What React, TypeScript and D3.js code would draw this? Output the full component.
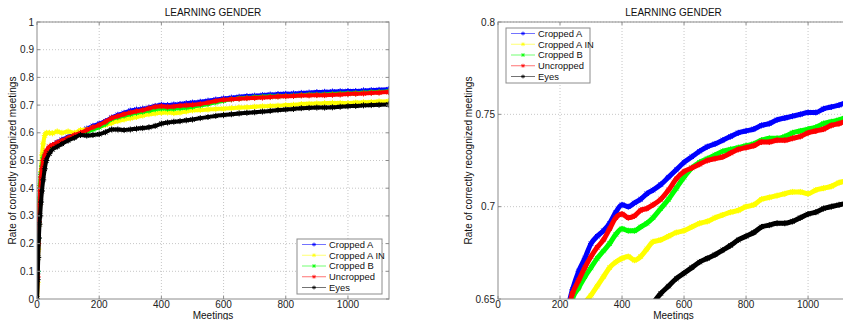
import { useEffect, useRef } from 'react';
import * as d3 from 'd3';

// Number of meetings at which each rate was sampled
const meetings = [0, 2, 4, 6, 8, 10, 13, 16, 20, 25, 30, 40, 50, 65, 80, 100, 120, 140, 160, 180, 200, 220, 240, 260, 280, 300, 320, 340, 360, 380, 400, 420, 440, 460, 480, 500, 525, 550, 575, 600, 625, 650, 675, 700, 725, 750, 775, 800, 825, 850, 875, 900, 925, 950, 975, 1000, 1025, 1050, 1075, 1100, 1130];

const croppedA = [0, 0.1, 0.22, 0.3, 0.36, 0.4, 0.45, 0.48, 0.5, 0.52, 0.53, 0.545, 0.555, 0.565, 0.575, 0.585, 0.595, 0.605, 0.615, 0.625, 0.633, 0.642, 0.655, 0.665, 0.672, 0.68, 0.684, 0.687, 0.691, 0.697, 0.701, 0.7, 0.702, 0.704, 0.707, 0.709, 0.712, 0.716, 0.72, 0.724, 0.727, 0.73, 0.7325, 0.734, 0.736, 0.738, 0.74, 0.741, 0.742, 0.744, 0.745, 0.747, 0.748, 0.749, 0.75, 0.751, 0.751, 0.753, 0.754, 0.755, 0.757];
const croppedAIn = [0, 0.06, 0.18, 0.27, 0.34, 0.4, 0.46, 0.52, 0.56, 0.59, 0.6, 0.6, 0.598, 0.605, 0.6, 0.605, 0.6, 0.61, 0.612, 0.618, 0.622, 0.628, 0.635, 0.642, 0.648, 0.652, 0.657, 0.662, 0.667, 0.67, 0.672, 0.673, 0.671, 0.673, 0.677, 0.681, 0.682, 0.684, 0.686, 0.687, 0.689, 0.691, 0.692, 0.694, 0.6955, 0.697, 0.698, 0.7, 0.701, 0.704, 0.705, 0.706, 0.707, 0.708, 0.708, 0.707, 0.709, 0.71, 0.711, 0.713, 0.714];
const croppedB = [0, 0.1, 0.22, 0.3, 0.36, 0.41, 0.45, 0.48, 0.51, 0.52, 0.53, 0.54, 0.55, 0.56, 0.568, 0.578, 0.587, 0.595, 0.603, 0.612, 0.62, 0.632, 0.65, 0.656, 0.662, 0.667, 0.672, 0.676, 0.68, 0.685, 0.688, 0.687, 0.687, 0.689, 0.691, 0.694, 0.699, 0.704, 0.71, 0.716, 0.721, 0.724, 0.726, 0.728, 0.73, 0.731, 0.732, 0.733, 0.734, 0.736, 0.737, 0.737, 0.738, 0.74, 0.741, 0.742, 0.743, 0.745, 0.746, 0.747, 0.749];
const uncropped = [0, 0.08, 0.2, 0.28, 0.34, 0.39, 0.44, 0.47, 0.5, 0.52, 0.535, 0.55, 0.556, 0.565, 0.572, 0.582, 0.592, 0.6, 0.61, 0.62, 0.628, 0.64, 0.653, 0.66, 0.667, 0.673, 0.678, 0.682, 0.688, 0.694, 0.696, 0.694, 0.695, 0.698, 0.699, 0.701, 0.704, 0.709, 0.715, 0.719, 0.721, 0.723, 0.725, 0.726, 0.727, 0.729, 0.731, 0.732, 0.733, 0.735, 0.735, 0.736, 0.736, 0.737, 0.738, 0.74, 0.741, 0.742, 0.744, 0.745, 0.747];
const eyes = [0, 0.07, 0.15, 0.22, 0.27, 0.3, 0.35, 0.39, 0.43, 0.47, 0.5, 0.525, 0.54, 0.55, 0.56, 0.572, 0.582, 0.592, 0.59, 0.592, 0.595, 0.602, 0.612, 0.612, 0.61, 0.612, 0.615, 0.617, 0.62, 0.625, 0.633, 0.637, 0.64, 0.642, 0.645, 0.648, 0.653, 0.657, 0.661, 0.664, 0.667, 0.67, 0.672, 0.674, 0.6765, 0.679, 0.682, 0.684, 0.686, 0.689, 0.69, 0.691, 0.691, 0.692, 0.694, 0.696, 0.697, 0.699, 0.7, 0.701, 0.702];

const seriesNames = ['Cropped A', 'Cropped A IN', 'Cropped B', 'Uncropped', 'Eyes'];
const seriesColors = ['#0000ff', '#ffff00', '#00ff00', '#ff0000', '#000000'];
const seriesValues = [croppedA, croppedAIn, croppedB, uncropped, eyes];

const leftYTicks = [0, 0.1, 0.2, 0.3, 0.4, 0.5, 0.6, 0.7, 0.8, 0.9, 1];
const rightYTicks = [0.65, 0.7, 0.75, 0.8];
const xTicks = [0, 200, 400, 600, 800, 1000];

const FONT = '"Liberation Sans", Arial, sans-serif';

interface PanelOpts {
  id: string;
  left: number;
  right: number;
  top: number;
  bottom: number;
  yDomain: [number, number];
  yTicks: number[];
  lineWidth: number;
  yLabelOffset: number;
  legend: { x: number; y: number; w: number; h: number };
}

function drawPanel(svg: d3.Selection<SVGSVGElement, unknown, null, undefined>, o: PanelOpts) {
  const x = d3.scaleLinear().domain([0, 1132]).range([o.left, o.right]);
  const y = d3.scaleLinear().domain(o.yDomain).range([o.bottom, o.top]);
  const g = svg.append('g');

  // grid
  g.selectAll('.gx').data(xTicks.slice(1)).enter().append('line')
    .attr('x1', d => x(d)).attr('x2', d => x(d))
    .attr('y1', o.top).attr('y2', o.bottom)
    .attr('stroke', '#b8b8b8').attr('stroke-width', 0.8).attr('stroke-dasharray', '1,2');
  g.selectAll('.gy').data(o.yTicks.slice(1)).enter().append('line')
    .attr('x1', o.left).attr('x2', o.right)
    .attr('y1', d => y(d)).attr('y2', d => y(d))
    .attr('stroke', '#b8b8b8').attr('stroke-width', 0.8).attr('stroke-dasharray', '1,2');

  // lines, clipped to plot box
  const clipId = `clip-${o.id}`;
  svg.append('defs').append('clipPath').attr('id', clipId)
    .append('rect').attr('x', o.left).attr('y', o.top)
    .attr('width', o.right - o.left).attr('height', o.bottom - o.top);
  const plot = g.append('g').attr('clip-path', `url(#${clipId})`);
  const line = d3.line<number>()
    .x((_d, i) => x(meetings[i]))
    .y(d => y(d))
    .curve(d3.curveMonotoneX);
  const star = 'M-3,0L3,0M0,-3L0,3M-2.2,-2.2L2.2,2.2M-2.2,2.2L2.2,-2.2';

  seriesValues.forEach((vals, si) => {
    const color = seriesColors[si];
    plot.append('path')
      .attr('d', line(vals) || '')
      .attr('fill', 'none')
      .attr('stroke', color)
      .attr('stroke-width', o.lineWidth)
      .attr('stroke-linejoin', 'round');
    plot.append('path')
      .attr('d', line(vals) || '')
      .attr('fill', 'none')
      .attr('stroke', color)
      .attr('stroke-width', 1);
    plot.selectAll(null).data(vals).enter().append('path')
      .attr('d', star)
      .attr('transform', (d, i) => `translate(${x(meetings[i])},${y(d)})`)
      .attr('stroke', color)
      .attr('stroke-width', 1)
      .attr('fill', 'none');
  });

  // axes box
  g.append('rect')
    .attr('x', o.left).attr('y', o.top)
    .attr('width', o.right - o.left).attr('height', o.bottom - o.top)
    .attr('fill', 'none').attr('stroke', '#8c8c8c').attr('stroke-width', 1);

  // inward ticks
  xTicks.forEach(t => {
    g.append('line').attr('x1', x(t)).attr('x2', x(t)).attr('y1', o.bottom).attr('y2', o.bottom - 3)
      .attr('stroke', '#8c8c8c');
    g.append('line').attr('x1', x(t)).attr('x2', x(t)).attr('y1', o.top).attr('y2', o.top + 3)
      .attr('stroke', '#8c8c8c');
  });
  o.yTicks.forEach(t => {
    g.append('line').attr('x1', o.left).attr('x2', o.left + 3).attr('y1', y(t)).attr('y2', y(t))
      .attr('stroke', '#8c8c8c');
    g.append('line').attr('x1', o.right).attr('x2', o.right - 3).attr('y1', y(t)).attr('y2', y(t))
      .attr('stroke', '#8c8c8c');
  });

  // tick labels
  g.selectAll('.xl').data(xTicks).enter().append('text')
    .attr('x', d => x(d)).attr('y', o.bottom + 9)
    .attr('text-anchor', 'middle')
    .style('font-family', FONT).style('font-size', '10px').attr('fill', '#222')
    .text(d => String(d));
  g.selectAll('.yl').data(o.yTicks).enter().append('text')
    .attr('x', o.left - 3).attr('y', d => y(d)).attr('dy', '0.35em')
    .attr('text-anchor', 'end')
    .style('font-family', FONT).style('font-size', '10px').attr('fill', '#222')
    .text(d => String(+d.toFixed(2)));

  // title and axis labels
  const cx = (o.left + o.right) / 2;
  g.append('text').attr('x', cx).attr('y', 16).attr('text-anchor', 'middle')
    .style('font-family', FONT).style('font-size', '10px').attr('fill', '#111')
    .text('LEARNING GENDER');
  g.append('text').attr('x', cx).attr('y', 319).attr('text-anchor', 'middle')
    .style('font-family', FONT).style('font-size', '10px').attr('fill', '#111')
    .text('Meetings');
  g.append('text')
    .attr('transform', `translate(${o.left - o.yLabelOffset},${(o.top + o.bottom) / 2}) rotate(-90)`)
    .attr('text-anchor', 'middle')
    .style('font-family', FONT).style('font-size', '10px').attr('fill', '#111')
    .text('Rate of correctly recognized meetings');

  // legend
  const L = o.legend;
  const lg = g.append('g');
  lg.append('rect').attr('x', L.x).attr('y', L.y).attr('width', L.w).attr('height', L.h)
    .attr('fill', '#fff').attr('stroke', '#8c8c8c');
  seriesNames.forEach((name, i) => {
    const ry = L.y + 5.5 + i * 10.75;
    lg.append('line').attr('x1', L.x + 5).attr('x2', L.x + 29).attr('y1', ry).attr('y2', ry)
      .attr('stroke', seriesColors[i]).attr('stroke-opacity', 0.55);
    lg.append('path').attr('d', 'M-2,0L2,0M0,-2L0,2M-1.5,-1.5L1.5,1.5M-1.5,1.5L1.5,-1.5')
      .attr('transform', `translate(${L.x + 17},${ry})`)
      .attr('stroke', seriesColors[i]).attr('stroke-opacity', 0.7).attr('fill', 'none');
    lg.append('text').attr('x', L.x + 32).attr('y', ry).attr('dy', '0.35em')
      .style('font-family', FONT).style('font-size', '9.4px').attr('fill', '#111')
      .text(name);
  });
}

export default function App() {
  const svgRef = useRef<SVGSVGElement>(null);

  useEffect(() => {
    if (!svgRef.current) return;
    const svg = d3.select(svgRef.current);
    svg.selectAll('*').remove();

    drawPanel(svg, {
      id: 'left', left: 37, right: 389, top: 22, bottom: 299,
      yDomain: [0, 1], yTicks: leftYTicks, lineWidth: 4, yLabelOffset: 21,
      legend: { x: 297, y: 239, w: 85, h: 55 },
    });
    drawPanel(svg, {
      id: 'right', left: 498, right: 849, top: 22, bottom: 299,
      yDomain: [0.65, 0.8], yTicks: rightYTicks, lineWidth: 5, yLabelOffset: 26,
      legend: { x: 506, y: 28, w: 84, h: 55 },
    });
  }, []);

  return (
    <svg
      ref={svgRef}
      width={843}
      height={320}
      style={{ position: 'absolute', left: 0, top: 0, background: '#fff' }}
    />
  );
}
